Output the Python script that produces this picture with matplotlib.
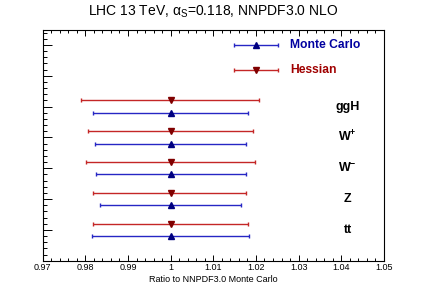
import matplotlib
matplotlib.use("Agg")
import matplotlib.pyplot as plt
from matplotlib.ticker import MultipleLocator, FuncFormatter

plt.rcParams["font.family"] = ["Liberation Sans", "DejaVu Sans"]
plt.rcParams["mathtext.fontset"] = "custom"
plt.rcParams["mathtext.rm"] = "Liberation Sans"
plt.rcParams["mathtext.it"] = "Liberation Sans"
plt.rcParams["mathtext.bf"] = "Liberation Sans:bold"

# observables, top to bottom
labels = ["ggH", r"W$\mathbf{^{+}}$", r"W$\mathbf{^{-}}$", "Z", "tt"]
ypos = [5, 4, 3, 2, 1]
central = [1.0, 1.0, 1.0, 1.0, 1.0]

# Monte Carlo intervals
mc_lo = [0.9819, 0.9823, 0.9825, 0.9834, 0.9816]
mc_hi = [1.0182, 1.0177, 1.0176, 1.0165, 1.0183]
# Hessian intervals
hs_lo = [0.9790, 0.9807, 0.9802, 0.9817, 0.9819]
hs_hi = [1.0208, 1.0192, 1.0198, 1.0176, 1.0182]

BLUE_L, BLUE_M = "#2626c4", "#000080"
RED_L, RED_M = "#c42626", "#800000"

fig = plt.figure(figsize=(4.27, 2.90), dpi=100)
ax = fig.add_axes([0.1, 0.101, 0.799, 0.797])


def bars(y, c, lo, hi, lc, mc, marker):
    ax.errorbar(c, y, xerr=[[ci - l for ci, l in zip(c, lo)],
                            [h - ci for ci, h in zip(c, hi)]],
                fmt=marker, color=lc, mfc=mc, mec=mc, ms=5, lw=1.0,
                capsize=1.5, capthick=1.0, zorder=3)


bars([y - 0.2 for y in ypos], central, mc_lo, mc_hi, BLUE_L, BLUE_M, "^")
bars([y + 0.2 for y in ypos], central, hs_lo, hs_hi, RED_L, RED_M, "v")

for y, lab in zip(ypos, labels):
    ax.text(1.0415, y, lab, ha="center", va="center", fontsize=9,
            fontweight="bold")

# legend drawn inside the frame, ROOT style
bars([7.0], [1.02], [1.0149], [1.0251], BLUE_L, BLUE_M, "^")
bars([6.2], [1.02], [1.0149], [1.0251], RED_L, RED_M, "v")
ax.text(1.028, 7.0, "Monte Carlo", color="#0000a0", fontsize=8.7,
        fontweight="bold", va="center")
ax.text(1.028, 6.2, "Hessian", color="#a00000", fontsize=8.7,
        fontweight="bold", va="center")

ax.set_xlim(0.97, 1.05)
ax.set_ylim(0, 7.5)
ax.xaxis.set_major_locator(MultipleLocator(0.01))
ax.xaxis.set_minor_locator(MultipleLocator(0.002))
ax.xaxis.set_major_formatter(FuncFormatter(lambda v, p: f"{v:g}"))
ax.yaxis.set_major_locator(MultipleLocator(1))
ax.yaxis.set_minor_locator(MultipleLocator(0.2))
ax.set_yticklabels([])
ax.tick_params(axis="x", which="both", direction="in", top=True,
               labelsize=6.5, pad=2)
ax.tick_params(axis="x", which="major", length=4.3, width=0.7)
ax.tick_params(axis="x", which="minor", length=2.2, width=0.7)
ax.tick_params(axis="y", which="both", direction="in", left=True,
               right=False, labelleft=False)
ax.tick_params(axis="y", which="major", length=6.5, width=0.7)
ax.tick_params(axis="y", which="minor", length=3.2, width=0.7)
for s in ax.spines.values():
    s.set_linewidth(0.8)

ax.set_xlabel("Ratio to NNPDF3.0 Monte Carlo", fontsize=6.5, labelpad=2)
fig.text(0.5, 0.958, "LHC 13 TeV, α$_{S}$=0.118, NNPDF3.0 NLO",
         ha="center", va="center", fontsize=10)

fig.savefig("out.png", dpi=100)
